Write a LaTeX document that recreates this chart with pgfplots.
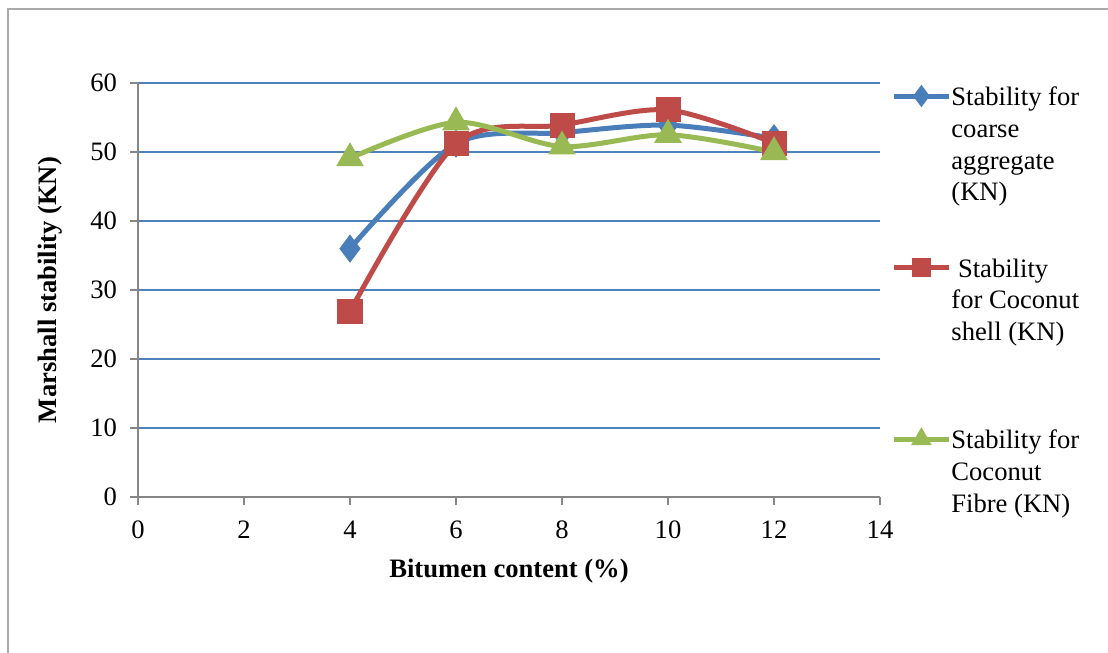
\documentclass[border=0pt]{standalone}
\usepackage{fontspec}
\setmainfont{Liberation Serif}
\usepackage{pgfplots}
\pgfplotsset{compat=1.18}

\definecolor{serblue}{RGB}{74,126,187}
\definecolor{serred}{RGB}{190,75,72}
\definecolor{sergreen}{RGB}{152,185,84}
\definecolor{gridblue}{RGB}{79,129,189}
\definecolor{axgray}{RGB}{134,134,134}

\newcommand{\chartfont}{\fontsize{13.3}{15.85}\selectfont}

\begin{document}
\begin{tikzpicture}
% page area (1 px = 0.5 pt), lower left of the plot area at the origin
\useasboundingbox (-69pt,-78pt) rectangle (485pt,248.5pt);
\draw[axgray!70, line width=1pt] (-65pt,244pt) rectangle (520pt,-120pt);
\begin{axis}[
  scale only axis,
  width=371pt, height=207pt,
  xmin=0, xmax=14, ymin=0, ymax=60,
  xtick={0,2,...,14}, ytick={0,10,...,60},
  axis x line*=bottom, axis y line*=left,
  axis line style={axgray, line width=0.9pt, -},
  tick style={axgray, line width=0.9pt},
  tick align=outside, major tick length=4pt,
  ymajorgrids,
  major grid style={gridblue, line width=0.8pt},
  font=\chartfont,
  /pgf/number format/assume math mode=true,
  ticklabel style={font=\chartfont},
  yticklabel style={xshift=-3pt},
  xticklabel style={yshift=-4.5pt},
  xlabel={\textbf{Bitumen content (\%)}},
  ylabel={\textbf{Marshall stability (KN)}},
  xlabel style={at={(axis description cs:0.5,0)}, anchor=base, yshift=-40pt},
  ylabel style={at={(axis description cs:0,0.5)}, anchor=center, yshift=44pt},
  legend style={at={(axis description cs:1,1)}, anchor=north west,
    xshift=5.5pt, draw=none, fill=none, inner sep=0pt, row sep=73.2pt,
    nodes={inner sep=0pt, font=\chartfont}},
  legend cell align=left,
  legend image code/.code={%
    \draw[mark repeat=2,mark phase=2,mark size=3.5pt] plot coordinates {(0pt,0pt)(13.75pt,0pt)(27.5pt,0pt)};},
  every axis plot/.append style={line width=2.5pt, smooth},
]
\addplot[serblue, mark=diamond*, mark size=5pt, mark options={solid, fill=serblue}]
  coordinates {(4,36.0) (6,51.2) (8,52.8) (10,53.9) (12,52.0)};
\addlegendentry{\begin{tabular}[t]{@{}l@{}}Stability for\\coarse\\aggregate\\(KN)\end{tabular}}
\addplot[serred, mark=square*, mark size=5pt, mark options={solid, fill=serred}]
  coordinates {(4,26.9) (6,51.2) (8,53.9) (10,56.1) (12,51.3)};
\addlegendentry{\begin{tabular}[t]{@{}l@{}}\ Stability\\for Coconut\\shell (KN)\end{tabular}}
\addplot[sergreen, mark=triangle*, mark size=5.5pt, mark options={solid, fill=sergreen}]
  coordinates {(4,49.1) (6,54.3) (8,50.8) (10,52.5) (12,50.0)};
\addlegendentry{\begin{tabular}[t]{@{}l@{}}Stability for\\Coconut\\Fibre (KN)\end{tabular}}
\end{axis}
\end{tikzpicture}
\end{document}
